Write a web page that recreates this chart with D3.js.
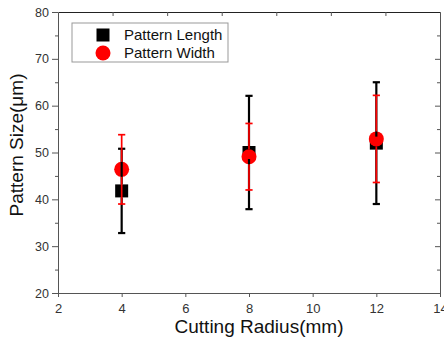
<!DOCTYPE html>
<html>
<head>
<meta charset="utf-8">
<script src="https://cdn.jsdelivr.net/npm/d3@7"></script>
<style>
  body { margin: 0; background: #fff; }
  svg { font-family: "Liberation Sans", Arial, sans-serif; }
</style>
</head>
<body>
<svg id="chart" width="444" height="339"></svg>
<script>
// values
const radius = [4, 8, 12];
const lengthMean = [41.8, 50.0, 52.0];
const lengthErr = [9.0, 12.1, 13.0];
const widthMean = [46.4, 49.1, 52.9];
const widthErr = [7.4, 7.1, 9.3];
const xTicks = [2, 4, 6, 8, 10, 12, 14];
const yTicks = [20, 30, 40, 50, 60, 70, 80];
const yMinor = [25, 35, 45, 55, 65, 75];
const seriesNames = ['Pattern Length', 'Pattern Width'];

let svg = d3.select('#chart');
let plotLeft = 58, plotRight = 440, plotTop = 12, plotBottom = 293;

let x = d3.scaleLinear().domain([2, 14]).range([plotLeft, plotRight]);
let y = d3.scaleLinear().domain([20, 80]).range([plotBottom, plotTop]);
// top frame carries its own evenly spaced ticks
let xTop = d3.scaleLinear().domain([0, 7]).range([plotLeft, plotRight]);

const axisColor = '#555';

function styleAxis(g) {
    g.selectAll('path, line').attr('stroke', axisColor);
    g.selectAll('text').attr('fill', '#333').style('font-size', '13px');
}

// minor ticks first so the main axes sit on top
svg.append('g')
    .attr('transform', `translate(${plotLeft},0)`)
    .call(d3.axisLeft(y).tickValues(yMinor).tickSize(3).tickFormat(''))
    .call(g => g.select('.domain').remove())
    .call(styleAxis);
svg.append('g')
    .attr('transform', `translate(${plotRight},0)`)
    .call(d3.axisLeft(y).tickValues(yMinor).tickSize(3).tickFormat(''))
    .call(g => g.select('.domain').remove())
    .call(styleAxis);
svg.append('g')
    .attr('transform', `translate(${plotRight},0)`)
    .call(d3.axisLeft(y).tickValues(yTicks).tickSize(5).tickSizeOuter(0).tickFormat(''))
    .call(styleAxis);

// top frame
svg.append('g')
    .attr('transform', `translate(0,${plotTop})`)
    .call(d3.axisBottom(xTop).tickValues([1, 2, 3, 4, 5, 6]).tickSize(4).tickSizeOuter(0).tickFormat(''))
    .call(styleAxis)
    .call(g => g.select('.domain').attr('stroke', '#222'));

// left axis
svg.append('g')
    .attr('transform', `translate(${plotLeft},0)`)
    .call(d3.axisLeft(y).tickValues(yTicks).tickSize(6).tickSizeOuter(0).tickPadding(3))
    .call(styleAxis)
    .call(g => g.selectAll('text').style('font-size', '12.5px'));

// bottom axis
svg.append('g')
    .attr('transform', `translate(0,${plotBottom})`)
    .call(d3.axisBottom(x).tickValues(xTicks).tickSize(4).tickSizeOuter(0).tickPadding(7))
    .call(styleAxis);

// axis titles
svg.append('text')
    .attr('x', 259).attr('y', 333)
    .attr('text-anchor', 'middle')
    .style('font-size', '19px').attr('fill', '#111')
    .text('Cutting Radius(mm)');
svg.append('text')
    .attr('transform', 'translate(23,145) rotate(-90)')
    .attr('text-anchor', 'middle')
    .style('font-size', '19px').attr('fill', '#111')
    .text('Pattern Size(\u03bcm)');

let lengthData = radius.map((r, i) => ({x: r, m: lengthMean[i], e: lengthErr[i]}));
let widthData = radius.map((r, i) => ({x: r, m: widthMean[i], e: widthErr[i]}));

let plot = svg.append('g');

// markers
plot.selectAll('rect.len').data(lengthData).enter()
    .append('rect')
    .attr('class', 'len')
    .attr('x', d => x(d.x) - 6.5)
    .attr('y', d => y(d.m) - 6.5)
    .attr('width', 13).attr('height', 13)
    .attr('fill', '#000');

plot.selectAll('circle.wid').data(widthData).enter()
    .append('circle')
    .attr('class', 'wid')
    .attr('cx', d => x(d.x))
    .attr('cy', d => y(d.m))
    .attr('r', 7.5)
    .attr('fill', '#f00');

// error bars
function errorBars(data, color, width, cap, gap) {
    let g = plot.append('g').attr('stroke', color).attr('stroke-width', width);
    g.selectAll('line.up').data(data).enter().append('line')
        .attr('x1', d => x(d.x)).attr('x2', d => x(d.x))
        .attr('y1', d => y(d.m) - gap).attr('y2', d => y(d.m + d.e));
    g.selectAll('line.dn').data(data).enter().append('line')
        .attr('x1', d => x(d.x)).attr('x2', d => x(d.x))
        .attr('y1', d => y(d.m) + gap).attr('y2', d => y(d.m - d.e));
    g.selectAll('line.capt').data(data).enter().append('line')
        .attr('x1', d => x(d.x) - cap).attr('x2', d => x(d.x) + cap)
        .attr('y1', d => y(d.m + d.e)).attr('y2', d => y(d.m + d.e));
    g.selectAll('line.capb').data(data).enter().append('line')
        .attr('x1', d => x(d.x) - cap).attr('x2', d => x(d.x) + cap)
        .attr('y1', d => y(d.m - d.e)).attr('y2', d => y(d.m - d.e));
}
errorBars(lengthData, '#000', 2.2, 3.6, 6.5);
errorBars(widthData, '#f00', 1.7, 3.6, 7.5);

// legend
let legend = svg.append('g');
legend.append('rect')
    .attr('x', 72).attr('y', 23).attr('width', 156).attr('height', 39)
    .attr('fill', '#fff').attr('stroke', '#999').attr('stroke-width', 1);
legend.append('rect')
    .attr('x', 103 - 6.5).attr('y', 35 - 6.5).attr('width', 13).attr('height', 13)
    .attr('fill', '#000');
legend.append('circle')
    .attr('cx', 103).attr('cy', 53).attr('r', 7.5).attr('fill', '#f00');
legend.selectAll('text').data(seriesNames).enter()
    .append('text')
    .attr('x', 124)
    .attr('y', (d, i) => 40 + i * 18)
    .style('font-size', '15px').attr('fill', '#111')
    .text(d => d);
</script>
</body>
</html>
